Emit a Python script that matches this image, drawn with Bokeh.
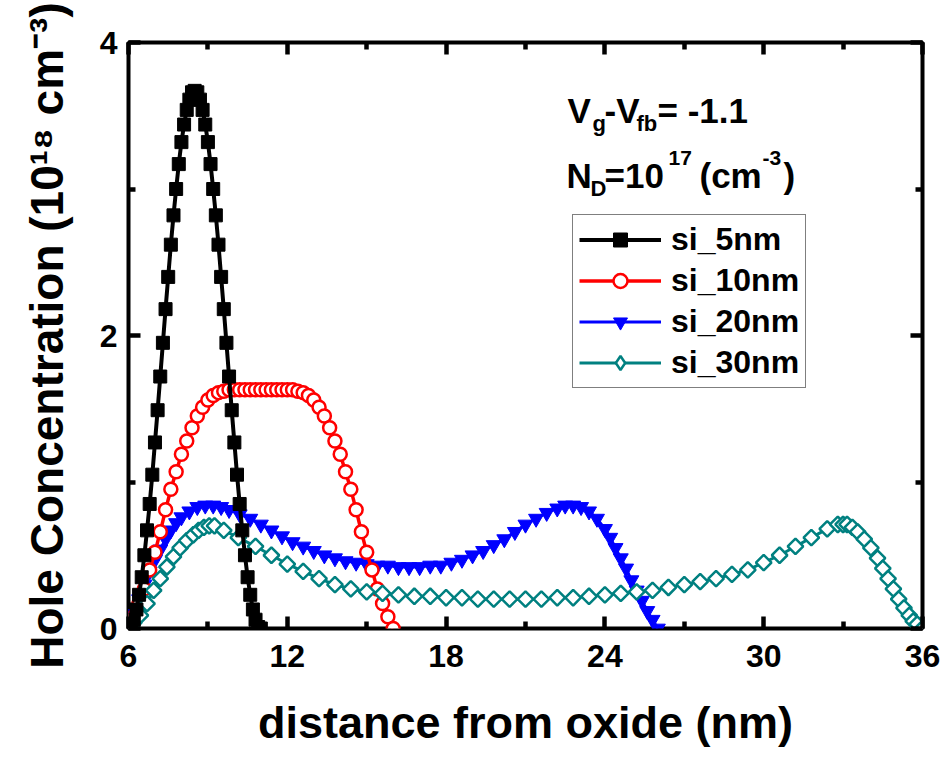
import math
from bokeh.plotting import figure
from bokeh.models import Range1d, FixedTicker, LinearAxis, Legend, LegendItem, Label
from bokeh.embed import file_html
from bokeh.resources import INLINE

# Hole concentration (10^18 cm^-3) versus distance from the oxide (nm)
x_5nm = [6.0, 6.1, 6.2, 6.3, 6.4, 6.5, 6.6, 6.7, 6.8, 6.9, 7.0, 7.1, 7.2, 7.3, 7.4, 7.5, 7.6,
         7.7, 7.8, 7.9, 8.0, 8.1, 8.2, 8.3, 8.4, 8.5, 8.6, 8.7, 8.8, 8.9, 9.0, 9.1, 9.2, 9.3,
         9.4, 9.5, 9.6, 9.7, 9.8, 9.9, 10.0, 10.1, 10.2, 10.3, 10.4, 10.5, 10.6, 10.7, 10.8,
         10.9, 11.0]
y_5nm = [0.0, 0.01, 0.06, 0.13, 0.23, 0.35, 0.50, 0.67, 0.85, 1.05, 1.27, 1.49, 1.72, 1.95,
         2.18, 2.40, 2.62, 2.82, 3.00, 3.17, 3.32, 3.44, 3.54, 3.61, 3.66, 3.67, 3.66, 3.61,
         3.54, 3.44, 3.32, 3.17, 3.00, 2.82, 2.62, 2.40, 2.18, 1.95, 1.72, 1.49, 1.27, 1.05,
         0.85, 0.67, 0.50, 0.35, 0.23, 0.13, 0.06, 0.01, 0.0]

x_10nm = [6.0, 6.2, 6.4, 6.6, 6.8, 7.0, 7.2, 7.4, 7.6, 7.8, 8.0, 8.2, 8.4, 8.6, 8.8, 9.0, 9.2,
          9.4, 9.6, 9.8, 10.0, 10.2, 10.4, 10.6, 10.8, 11.0, 11.2, 11.4, 11.6, 11.8, 12.0,
          12.2, 12.4, 12.6, 12.8, 13.0, 13.2, 13.4, 13.6, 13.8, 14.0, 14.2, 14.4, 14.6, 14.8,
          15.0, 15.2, 15.4, 15.6, 15.8, 16.0]
y_10nm = [0.0, 0.08, 0.17, 0.27, 0.40, 0.52, 0.66, 0.81, 0.95, 1.07, 1.19, 1.28, 1.37, 1.45,
          1.51, 1.56, 1.59, 1.61, 1.62, 1.63, 1.63, 1.63, 1.63, 1.63, 1.63, 1.63, 1.63, 1.63,
          1.63, 1.63, 1.63, 1.63, 1.62, 1.61, 1.59, 1.56, 1.51, 1.45, 1.37, 1.28, 1.19, 1.07,
          0.95, 0.81, 0.66, 0.52, 0.40, 0.27, 0.17, 0.08, 0.0]

x_20nm = [6.0, 6.2, 6.4, 6.6, 6.8, 7.0, 7.2, 7.4, 7.6, 7.8, 8.0, 8.3, 8.6, 8.9, 9.2, 9.5, 9.8,
          10.2, 10.6, 11.0, 11.4, 11.8, 12.2, 12.6, 13.0, 13.4, 13.8, 14.2, 14.6, 15.0, 15.4,
          15.8, 16.2, 16.6, 17.0, 17.4, 17.8, 18.2, 18.6, 19.0, 19.4, 19.8, 20.2, 20.6, 21.0,
          21.4, 21.8, 22.2, 22.5, 22.8, 23.1, 23.4, 23.7, 24.0, 24.2, 24.4, 24.6, 24.8, 25.0,
          25.2, 25.4, 25.6, 25.8, 26.0]
y_20nm = [0.0, 0.10, 0.20, 0.30, 0.39, 0.47, 0.54, 0.61, 0.67, 0.72, 0.76, 0.80, 0.83, 0.84,
          0.84, 0.83, 0.81, 0.78, 0.75, 0.71, 0.67, 0.63, 0.59, 0.56, 0.53, 0.50, 0.48, 0.46,
          0.45, 0.44, 0.43, 0.43, 0.42, 0.42, 0.42, 0.43, 0.43, 0.45, 0.47, 0.50, 0.53, 0.57,
          0.61, 0.66, 0.71, 0.75, 0.79, 0.82, 0.84, 0.84, 0.83, 0.80, 0.75, 0.68, 0.62, 0.55,
          0.48, 0.41, 0.33, 0.26, 0.19, 0.12, 0.06, 0.0]

x_30nm = [6.0, 6.2, 6.45, 6.7, 6.95, 7.2, 7.45, 7.7, 7.95, 8.2, 8.45, 8.65, 8.85, 9.05, 9.25,
          9.6, 10.15, 10.8, 11.4, 12.0, 12.6, 13.2, 13.8, 14.4, 15.0, 15.6, 16.2, 16.8, 17.4,
          18.0, 18.6, 19.2, 19.8, 20.4, 21.0, 21.6, 22.2, 22.8, 23.4, 24.0, 24.6, 25.2, 25.8,
          26.4, 27.0, 27.6, 28.2, 28.8, 29.4, 30.0, 30.6, 31.2, 31.8, 32.4, 32.8, 33.0, 33.15,
          33.35, 33.55, 33.8, 34.05, 34.3, 34.5, 34.7, 34.9, 35.1, 35.3, 35.5, 35.65, 35.8, 36.0]
y_30nm = [0.0, 0.04, 0.09, 0.17, 0.26, 0.34, 0.42, 0.49, 0.55, 0.60, 0.64, 0.67, 0.69, 0.70,
          0.70, 0.67, 0.62, 0.56, 0.50, 0.44, 0.39, 0.34, 0.30, 0.27, 0.25, 0.24, 0.23, 0.22,
          0.22, 0.21, 0.21, 0.20, 0.20, 0.20, 0.20, 0.20, 0.21, 0.21, 0.22, 0.23, 0.24, 0.25,
          0.26, 0.28, 0.30, 0.32, 0.34, 0.37, 0.40, 0.45, 0.50, 0.56, 0.62, 0.68, 0.71, 0.71,
          0.71, 0.69, 0.66, 0.61, 0.55, 0.48, 0.41, 0.34, 0.27, 0.20, 0.14, 0.09, 0.05, 0.03,
          0.0]

x_ticks = [6, 12, 18, 24, 30, 36]
x_minor = [9, 15, 21, 27, 33]
y_ticks = [0, 2, 4]
y_minor = [1, 3]

FONT = "Liberation Sans"
W, H = 945, 774
FL, FR, FT, FB = 128, 922, 42, 628   # frame edges on the canvas

p = figure(width=W, height=H, output_backend="svg", toolbar_location=None,
           x_range=Range1d(6, 36), y_range=Range1d(0, 4),
           min_border_left=FL, min_border_right=W - FR,
           min_border_top=FT, min_border_bottom=H - FB,
           x_axis_label="distance from oxide (nm)",
           y_axis_label="Hole Concentration (10\u00b9\u2078 cm\u207b\u00b3)")
p.grid.visible = False
p.background_fill_color = "white"
p.border_fill_color = "white"
p.outline_line_color = "black"
p.outline_line_width = 4

p.add_layout(LinearAxis(), "right")
p.add_layout(LinearAxis(), "above")

for ax in p.xaxis:
    ax.ticker = FixedTicker(ticks=x_ticks, minor_ticks=x_minor)
for ax in p.yaxis:
    ax.ticker = FixedTicker(ticks=y_ticks, minor_ticks=y_minor)

for ax in p.axis:
    ax.axis_line_color = None
    ax.major_tick_in = 12
    ax.major_tick_out = 0
    ax.minor_tick_in = 7
    ax.minor_tick_out = 0
    ax.major_tick_line_width = 4.5
    ax.minor_tick_line_width = 4.5
    ax.major_tick_line_color = "black"
    ax.minor_tick_line_color = "black"
    ax.major_label_text_font = FONT
    ax.major_label_text_font_style = "bold"
    ax.major_label_text_font_size = "32px"
    ax.major_label_text_color = "black"
    ax.major_label_standoff = 11
    ax.axis_label_text_font = FONT
    ax.axis_label_text_font_style = "bold"
    ax.axis_label_text_color = "black"

p.right[0].major_label_text_color = None
p.above[0].major_label_text_color = None
p.right[0].major_label_text_font_size = "1px"
p.above[0].major_label_text_font_size = "1px"

xb = p.below[0]
xb.major_label_standoff = 16
xb.axis_label_text_font_size = "45px"
xb.axis_label_standoff = 27

yl = p.left[0]
yl.axis_label_text_font_size = "46px"
yl.axis_label_standoff = 24

# series: line + markers
r20l = p.line(x_20nm, y_20nm, line_color="#0000FF", line_width=3)
r20m = p.scatter(x_20nm, y_20nm, marker="inverted_triangle", size=15,
                 fill_color="#0000FF", line_color="#0000FF", line_width=1)
r10l = p.line(x_10nm, y_10nm, line_color="#FF0000", line_width=3.5)
r10m = p.scatter(x_10nm, y_10nm, marker="circle", size=13,
                 fill_color="white", line_color="#FF0000", line_width=2.5)
r30l = p.line(x_30nm, y_30nm, line_color="#008080", line_width=3)
# narrow diamond key for the legend; sits fully under the rotated squares
r30key = p.scatter(x_30nm, y_30nm, marker="diamond", size=12,
                   fill_color="white", line_color="#008080", line_width=2.5)
r30m = p.scatter(x_30nm, y_30nm, marker="square", angle=math.pi / 4, size=11,
                 fill_color="white", line_color="#008080", line_width=2.5)
r5l = p.line(x_5nm, y_5nm, line_color="black", line_width=4)
r5m = p.scatter(x_5nm, y_5nm, marker="square", size=13,
                fill_color="black", line_color="black", line_width=1)

legend = Legend(items=[
    LegendItem(label="si_5nm", renderers=[r5l, r5m]),
    LegendItem(label="si_10nm", renderers=[r10l, r10m]),
    LegendItem(label="si_20nm", renderers=[r20l, r20m]),
    LegendItem(label="si_30nm", renderers=[r30l, r30key]),
], location=(444, 240))
legend.label_text_font = FONT
legend.label_text_font_style = "bold"
legend.label_text_font_size = "32px"
legend.label_text_color = "black"
legend.glyph_width = 82
legend.glyph_height = 35
legend.label_height = 30
legend.label_standoff = 10
legend.spacing = 4
legend.padding = 6
legend.margin = 0
legend.border_line_color = "black"
legend.border_line_width = 1
legend.background_fill_color = "white"
legend.background_fill_alpha = 1
p.add_layout(legend)


def put(txt, px, py, size):
    """Place a bold text run with its baseline start at canvas pixel (px, py)."""
    p.add_layout(Label(x=px - FL, y=FB - py, x_units="screen", y_units="screen",
                       text=txt, text_font=FONT, text_font_style="bold",
                       text_font_size=f"{size}px", text_color="black",
                       text_align="left", text_baseline="alphabetic"))


# bias and doping annotation
put("V", 567, 110, 35)
put("g", 592, 123, 22)
put("-V", 604, 110, 35)
put("fb", 636, 123, 22)
put("= -1.1", 657, 110, 35)
put("N", 566, 175, 35)
put("D", 590, 188, 22)
put("=10", 604, 175, 35)
put("17", 668, 157, 21)
put("(cm", 699, 175, 35)
put("-3", 762, 157, 21)
put(")", 783, 175, 35)

open("out.html", "w").write(file_html(p, INLINE))
